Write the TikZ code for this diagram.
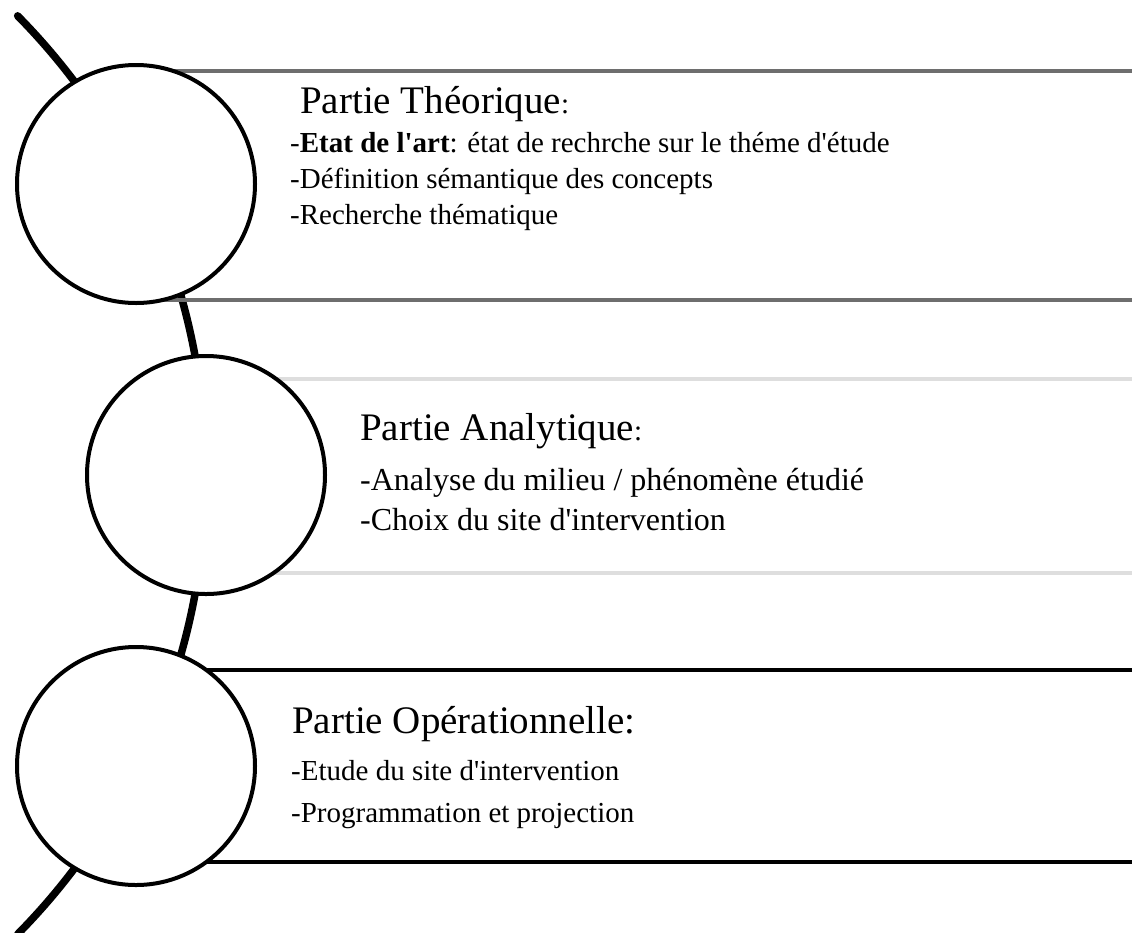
\documentclass[tikz,border=0pt]{standalone}
\usepackage{fontspec}
\setmainfont{Liberation Serif}
\newfontfamily\headfont{Liberation Serif}
\usepackage{xcolor}
\usetikzlibrary{positioning, calc}
\definecolor{darkline}{RGB}{110, 110, 110}
\definecolor{lightline}{RGB}{222, 222, 222}
\newcommand{\ap}{\textquotesingle}

\begin{document}
\begin{tikzpicture}[
  x=1pt, y=1pt,
  stage/.style={circle, draw=black, fill=white, line width=4pt,
                minimum size=238pt, inner sep=0pt},
  edge/.style={line width=4.5pt},
  heading/.style={anchor=base west, inner sep=0pt, font=\headfont\fontsize{39}{47}\selectfont},
  item/.style={anchor=base west, inner sep=0pt, font=\rmfamily\fontsize{29}{36}\selectfont},
  bigitem/.style={anchor=base west, inner sep=0pt, font=\rmfamily\fontsize{32}{40}\selectfont}
]
  \useasboundingbox (0,0) rectangle (1132,-932);

  % la ligne courbe
  \coordinate (arcc) at (-448,-475);
  \draw[line width=7.5pt, line cap=round] (arcc) ++(44.6:654)
    arc[start angle=44.6, end angle=-44.6, radius=654];

  % bandes
  \coordinate (r1t) at (1132,-71);   \coordinate (r1b) at (1132,-300);
  \coordinate (r2t) at (1132,-379);  \coordinate (r2b) at (1132,-573);
  \coordinate (r3t) at (1132,-670);  \coordinate (r3b) at (1132,-862);
  \draw[edge, darkline]  (136,-71) -- (r1t);
  \draw[edge, darkline]  (136,-300) -- (r1b);
  \draw[edge, lightline] (206,-379) -- (r2t);
  \draw[edge, lightline] (206,-573) -- (r2b);
  \draw[edge, black]     (136,-670) -- (r3t);
  \draw[edge, black]     (136,-862) -- (r3b);

  % cercles
  \node[stage] (theo) at (136,-184) {};
  \node[stage] (anal) at (206,-475) {};
  \node[stage] (oper) at (136,-766) {};

  % textes
  \node[heading] (t1)  at (300,-113) {Partie Théorique{\fontsize{29}{36}\selectfont:}};
  \node[item]    (t1a) at (290,-152) {-\textbf{Etat de l\ap art}: état de rechrche sur le théme d\ap étude};
  \node[item]    (t1b) at (290,-188) {-Définition sémantique des concepts};
  \node[item]    (t1c) at (290,-224) {-Recherche thématique};

  \node[heading] (t2)  at (360,-440) {Partie Analytique{\fontsize{29}{36}\selectfont:}};
  \node[bigitem] (t2a) at (360,-490) {-Analyse du milieu / phénomène étudié};
  \node[bigitem] (t2b) at (360,-530) {-Choix du site d\ap intervention};

  \node[heading] (t3)  at (292,-733) {Partie Opérationnelle:};
  \node[item]    (t3a) at (291,-780) {-Etude du site d\ap intervention};
  \node[item]    (t3b) at (291,-822) {-Programmation et projection};
\end{tikzpicture}
\end{document}
